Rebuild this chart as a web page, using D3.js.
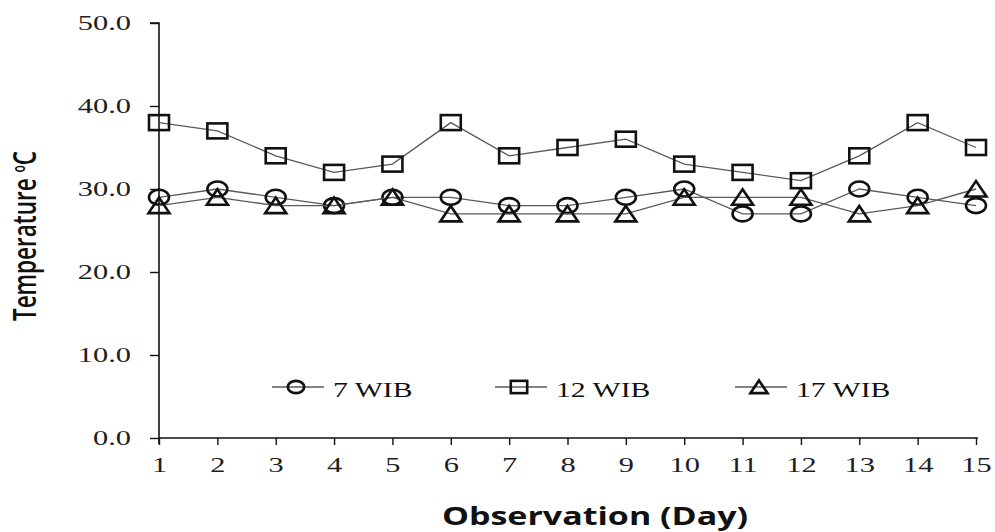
<!DOCTYPE html>
<html>
<head>
<meta charset="utf-8">
<script src="https://cdn.jsdelivr.net/npm/d3@7"></script>
<style>
  body { margin: 0; background: #fff; }
  svg { display: block; }
</style>
</head>
<body>
<div class="canvas"></div>
<script>
// Data
const days = [1, 2, 3, 4, 5, 6, 7, 8, 9, 10, 11, 12, 13, 14, 15];
const wib7 = [29, 30, 29, 28, 29, 29, 28, 28, 29, 30, 27, 27, 30, 29, 28];
const wib12 = [38, 37, 34, 32, 33, 38, 34, 35, 36, 33, 32, 31, 34, 38, 35];
const wib17 = [28, 29, 28, 28, 29, 27, 27, 27, 27, 29, 29, 29, 27, 28, 30];
const yTicks = [0, 10, 20, 30, 40, 50];
const seriesNames = ['7 WIB', '12 WIB', '17 WIB'];
const seriesShapes = ['circle', 'square', 'triangle'];

const dims = { width: 995, height: 532, left: 159, right: 976, top: 23, bottom: 438 };
// the original picture is stretched sideways, so text is too
const stretch = 1.45;
const serif = '"Liberation Serif", "Times New Roman", serif';

const svg = d3.select('.canvas')
    .append('svg')
    .attr('width', dims.width)
    .attr('height', dims.height);

const x = d3.scaleLinear().domain([1, 15]).range([dims.left, dims.right]);
const y = d3.scaleLinear().domain([0, 50]).range([dims.bottom, dims.top]);

// Axes
const yAxis = svg.append('g')
    .attr('transform', `translate(${dims.left},0)`)
    .call(d3.axisLeft(y).tickValues(yTicks).tickFormat(d3.format('.1f')).tickSize(9));
const xAxis = svg.append('g')
    .attr('transform', `translate(0,${dims.bottom})`)
    .call(d3.axisBottom(x).tickValues(days).tickFormat(d3.format('d')).tickSize(7));

[xAxis, yAxis].forEach(ax => {
    ax.select('.domain').attr('stroke', '#111').attr('stroke-width', 1.6);
    ax.selectAll('.tick line').attr('stroke', '#111').attr('stroke-width', 1.4);
    ax.selectAll('.tick text')
        .attr('fill', '#1e1e1e')
        .style('font-family', serif)
        .style('font-size', '21px');
});
yAxis.selectAll('.tick text')
    .attr('x', 0)
    .attr('transform', `translate(-28,0) scale(${stretch},1)`);
xAxis.selectAll('.tick text')
    .attr('y', 0)
    .attr('dy', 0)
    .attr('transform', `translate(0,34) scale(${stretch},1)`);

// y axis line reaches below 0 like the original
yAxis.select('.domain').attr('d', `M-9,${dims.top}H0V${dims.bottom + 6}`);
xAxis.select('.domain').attr('d', `M${dims.left},0H${dims.right + 2}`);

// Axis titles
const yTitle = svg.append('text')
    .attr('transform', `translate(36, 236) scale(1.42,1) rotate(-90)`)
    .attr('text-anchor', 'middle')
    .style('font-family', '"Open Sans", sans-serif')
    .style('font-weight', 600)
    .style('font-size', '22.5px')
    .attr('fill', '#111');
yTitle.append('tspan').text('Temperature ');
yTitle.append('tspan').attr('dy', -8).style('font-size', '12px').text('o');
yTitle.append('tspan').attr('dy', 8).text('C');

svg.append('text')
    .attr('transform', `translate(595, 525) scale(1.36,1)`)
    .attr('text-anchor', 'middle')
    .style('font-family', '"Open Sans", sans-serif')
    .style('font-weight', 700)
    .style('font-size', '25px')
    .attr('fill', '#111')
    .text('Observation (Day)');

// Marker drawing
function drawMarker(g, shape, k) {
    if (shape === 'circle') {
        g.append('ellipse').attr('rx', 10 * k).attr('ry', 7.5 * k);
    } else if (shape === 'square') {
        g.append('rect').attr('x', -10 * k).attr('y', -7.5 * k).attr('width', 20 * k).attr('height', 15 * k);
    } else {
        g.append('path').attr('d', `M0,${-8 * k}L${10.5 * k},${7.5 * k}L${-10.5 * k},${7.5 * k}Z`);
    }
    g.selectAll('*')
        .attr('fill', 'none')
        .attr('stroke', '#111')
        .attr('stroke-width', 2.6);
}

const line = d3.line()
    .x((d, i) => x(days[i]))
    .y(d => y(d));

const allSeries = [wib7, wib12, wib17];

allSeries.forEach((values, s) => {
    svg.append('path')
        .datum(values)
        .attr('fill', 'none')
        .attr('stroke', '#5a5a5a')
        .attr('stroke-width', 1.3)
        .attr('d', line);

    svg.append('g')
        .selectAll('g')
        .data(values)
        .enter()
        .append('g')
        .attr('transform', (d, i) => `translate(${x(days[i])},${y(d)})`)
        .each(function() { drawMarker(d3.select(this), seriesShapes[s], 1); });
});

// Legend
const legendX = [272, 495, 735];
const legendY = 387;
seriesNames.forEach((name, s) => {
    const lg = svg.append('g').attr('transform', `translate(${legendX[s]},${legendY})`);
    lg.append('line')
        .attr('x1', 0).attr('x2', 52)
        .attr('stroke', '#5a5a5a').attr('stroke-width', 1.3);
    drawMarker(lg.append('g').attr('transform', 'translate(24,0)'), seriesShapes[s], 0.82);
    lg.append('text')
        .attr('transform', `translate(61,10) scale(${stretch},1)`)
        .style('font-family', serif)
        .style('font-size', '20.5px')
        .attr('fill', '#111')
        .text(name);
});
</script>
</body>
</html>
